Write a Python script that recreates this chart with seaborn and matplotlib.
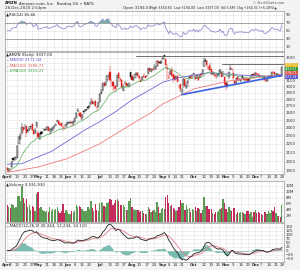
import numpy as np
import pandas as pd
import seaborn as sns
import matplotlib.pyplot as plt

# trading days shown on the chart
holidays = ['2020-04-10', '2020-05-25', '2020-07-03', '2020-09-07', '2020-11-26', '2020-12-25']
dates = pd.bdate_range('2020-04-01', '2020-12-28', freq='C', holidays=holidays)

closes = [1908, 1919, 1907, 1998, 2012, 2043, 2043, 2169, 2283, 2308, 2408, 2375, 2394, 2328, 2363, 2399, 2410, 2376, 2314, 2373, 2474,
          2286, 2316, 2318, 2351, 2368, 2380, 2409, 2357, 2368, 2389, 2410, 2426, 2449, 2498, 2447, 2437, 2422, 2410, 2401, 2442,
          2471, 2472, 2478, 2461, 2483, 2524, 2601, 2647, 2558, 2545, 2573, 2615, 2641, 2654, 2675, 2714, 2764, 2734, 2755, 2693, 2680, 2759,
          2879, 2890, 3057, 3000, 3081, 3183, 3200, 3104, 3084, 3009, 3000, 2962, 3197, 3138, 3100, 2987, 3009, 3055, 3000, 3034, 3052, 3165,
          3112, 3139, 3205, 3225, 3167, 3148, 3081, 3162, 3161, 3148, 3182, 3312, 3260, 3297, 3285, 3307, 3346, 3442, 3400, 3402, 3451,
          3499, 3531, 3368, 3295, 3150, 3269, 3175, 3116, 3103, 3156, 3078, 3009, 2955, 2960, 3129, 3000, 3020, 3095, 3174, 3145, 3149,
          3221, 3125, 3199, 3100, 3196, 3191, 3287, 3443, 3444, 3364, 3339, 3273, 3207, 3217, 3185, 3176, 3204, 3207, 3286, 3163, 3211, 3036,
          3004, 3048, 3241, 3322, 3311, 3144, 3035, 3137, 3110, 3129, 3131, 3136, 3105, 3117, 3099, 3098, 3118, 3185, 3195, 3168,
          3220, 3204, 3187, 3163, 3158, 3177, 3104, 3101, 3116, 3157, 3165, 3241, 3236, 3202, 3206, 3207, 3185, 3173, 3337]
opens = [1933, 1901, 1911, 1937, 2034, 2021, 2044, 2041, 2200, 2255, 2331, 2406, 2390, 2416, 2364, 2375, 2418, 2443, 2373, 2330, 2419,
         2336, 2256, 2340, 2329, 2374, 2372, 2375, 2412, 2367, 2353, 2369, 2412, 2432, 2474, 2494, 2455, 2459, 2404, 2384, 2416,
         2448, 2467, 2468, 2478, 2444, 2478, 2529, 2626, 2603, 2601, 2526, 2620, 2623, 2643, 2680, 2685, 2727, 2780, 2739, 2775, 2690, 2685,
         2758, 2912, 2934, 3058, 3023, 3115, 3192, 3251, 3090, 3080, 2971, 3010, 3000, 3232, 3125, 3099, 2930, 3062, 3055, 3030, 2992, 3244,
         3180, 3100, 3146, 3194, 3224, 3170, 3113, 3109, 3168, 3171, 3174, 3212, 3307, 3252, 3295, 3310, 3294, 3352, 3450, 3423, 3408,
         3489, 3548, 3485, 3319, 3144, 3203, 3286, 3208, 3172, 3137, 3180, 3009, 3032, 2907, 3017, 3120, 2978, 3055, 3149, 3175, 3141,
         3208, 3154, 3145, 3165, 3135, 3203, 3211, 3349, 3468, 3447, 3292, 3363, 3300, 3222, 3213, 3189, 3191, 3198, 3224, 3250, 3201, 3157,
         3061, 3018, 3160, 3272, 3305, 3231, 3095, 3062, 3159, 3122, 3094, 3183, 3134, 3105, 3118, 3117, 3101, 3141, 3211, 3208,
         3188, 3222, 3205, 3199, 3157, 3158, 3167, 3089, 3096, 3144, 3181, 3177, 3251, 3243, 3182, 3203, 3206, 3193, 3194]
highs = [1945, 1928, 1926, 1999, 2035, 2044, 2053, 2180, 2292, 2333, 2461, 2408, 2444, 2428, 2387, 2424, 2420, 2444, 2373, 2391, 2475,
         2362, 2326, 2352, 2357, 2396, 2383, 2419, 2419, 2390, 2392, 2410, 2439, 2454, 2500, 2500, 2469, 2462, 2414, 2436, 2443,
         2477, 2473, 2488, 2491, 2489, 2525, 2618, 2665, 2622, 2611, 2589, 2623, 2655, 2659, 2697, 2716, 2816, 2797, 2756, 2783, 2696, 2763,
         2896, 2955, 3060, 3070, 3084, 3193, 3217, 3344, 3125, 3094, 3032, 3022, 3200, 3240, 3150, 3099, 3032, 3098, 3077, 3039, 3062, 3246,
         3184, 3162, 3214, 3248, 3240, 3172, 3159, 3167, 3218, 3179, 3188, 3321, 3309, 3312, 3315, 3381, 3358, 3451, 3453, 3433, 3468,
         3514, 3552, 3488, 3381, 3250, 3289, 3325, 3211, 3188, 3175, 3188, 3029, 3037, 2962, 3133, 3123, 3070, 3101, 3175, 3188, 3212,
         3221, 3188, 3199, 3202, 3200, 3233, 3289, 3496, 3493, 3464, 3356, 3400, 3330, 3266, 3234, 3198, 3205, 3282, 3292, 3264, 3265, 3168,
         3080, 3074, 3245, 3367, 3323, 3290, 3114, 3140, 3175, 3142, 3143, 3189, 3141, 3125, 3133, 3140, 3134, 3199, 3216, 3229,
         3248, 3228, 3228, 3199, 3181, 3180, 3174, 3143, 3119, 3190, 3181, 3248, 3263, 3250, 3226, 3224, 3210, 3202, 3350]
lows = [1890, 1891, 1890, 1927, 1996, 2008, 2018, 2038, 2200, 2245, 2313, 2338, 2366, 2279, 2334, 2353, 2388, 2363, 2306, 2318, 2397,
        2275, 2248, 2306, 2320, 2355, 2354, 2372, 2356, 2310, 2334, 2359, 2378, 2426, 2469, 2440, 2430, 2415, 2360, 2382, 2399,
        2436, 2446, 2455, 2421, 2438, 2472, 2525, 2617, 2553, 2500, 2505, 2581, 2609, 2630, 2645, 2670, 2715, 2721, 2712, 2688, 2630, 2676,
        2756, 2872, 2934, 2990, 3010, 3074, 3136, 3069, 2990, 2950, 2918, 2923, 2993, 3122, 3065, 2966, 2930, 3016, 2995, 2997, 2986, 3116,
        3105, 3090, 3142, 3192, 3141, 3102, 3074, 3108, 3161, 3135, 3151, 3206, 3259, 3250, 3274, 3257, 3282, 3343, 3340, 3388, 3395,
        3468, 3487, 3303, 3112, 3131, 3189, 3163, 3062, 3092, 3108, 3075, 2972, 2905, 2871, 2976, 2993, 2966, 2999, 3105, 3132, 3135,
        3160, 3106, 3130, 3087, 3133, 3160, 3194, 3339, 3422, 3340, 3281, 3267, 3192, 3192, 3160, 3120, 3141, 3153, 3211, 3162, 3163, 3019,
        2950, 2981, 3125, 3272, 3274, 3100, 3002, 3056, 3087, 3085, 3074, 3135, 3102, 3081, 3098, 3072, 3087, 3134, 3191, 3126,
        3175, 3164, 3180, 3158, 3137, 3123, 3088, 3076, 3073, 3126, 3127, 3171, 3216, 3190, 3164, 3182, 3185, 3164, 3194]
volumes_m = [5.6, 5.1, 4.7, 6.0, 5.5, 4.6, 4.8, 8.5, 8.6, 7.0, 12.0, 7.9, 6.1, 7.5, 4.8, 5.5, 3.9, 5.3, 4.8, 3.7, 9.1,
             9.8, 4.7, 4.8, 4.0, 3.7, 3.2, 3.6, 3.4, 4.8, 3.6, 4.2, 3.9, 4.4, 5.0, 3.5, 2.9, 3.6, 5.8, 3.1, 3.9,
             3.3, 2.5, 2.7, 3.6, 3.3, 3.7, 5.5, 5.1, 5.3, 5.0, 4.2, 3.6, 3.6, 3.5, 5.0, 4.3, 6.8, 4.5, 3.6, 6.0, 4.1, 3.6,
             6.4, 6.6, 6.4, 5.3, 5.1, 6.3, 6.5, 7.7, 7.2, 5.6, 6.1, 7.2, 7.6, 6.8, 5.7, 5.6, 5.6, 4.9, 4.1, 3.9, 6.9, 8.0,
             5.1, 4.2, 3.8, 3.9, 3.9, 3.4, 3.7, 3.5, 3.1, 2.5, 2.7, 5.0, 4.3, 3.3, 3.6, 4.0, 3.3, 6.5, 4.9, 3.1, 4.2,
             4.6, 4.3, 8.2, 8.8, 6.1, 5.4, 5.6, 4.6, 4.2, 3.6, 4.1, 4.8, 7.1, 6.1, 6.2, 4.1, 5.5, 4.4, 4.6, 3.3, 4.4,
             4.1, 5.0, 3.5, 4.6, 4.3, 2.9, 4.0, 8.3, 5.3, 5.3, 4.4, 4.4, 4.2, 2.9, 2.6, 3.2, 3.2, 3.7, 4.2, 4.6, 7.5, 6.4,
             4.3, 3.4, 4.9, 4.0, 3.5, 4.7, 4.6, 2.7, 3.2, 3.0, 3.2, 3.3, 2.9, 2.6, 3.5, 3.6, 2.7, 3.2, 1.8, 3.4,
             4.1, 3.0, 3.2, 2.8, 2.6, 2.2, 3.4, 3.4, 2.6, 3.5, 3.0, 4.0, 3.5, 5.0, 2.9, 2.0, 2.1, 1.5, 5.5]

# moving averages at a few bars (bar index, value)
ma50_idx = [0, 10, 21, 30, 41, 52, 63, 74, 85, 96, 106, 116, 127, 137, 149, 159, 169, 179, 187]
ma50_val = [1970, 1975, 2050, 2110, 2230, 2360, 2480, 2620, 2790, 2930, 3070, 3140, 3190, 3230, 3210, 3190, 3180, 3170, 3171]
ma100_idx = [0, 21, 41, 63, 85, 97, 106, 127, 149, 169, 187]
ma100_val = [1885, 1940, 2030, 2200, 2450, 2590, 2730, 2960, 3080, 3150, 3190]

# RSI smoothing state carried in from March (avg gain, avg loss)
rsi_seed = (31.0, 29.0)

# drawn annotations: (start bar, price)
support_line = ([119, 187], [2871, 3185])
resist_lines = [(88, 3545), (146, 3390)]

# last-value tags on the right price axis
tag_text = ['3337.00', '3219.27', '3196.71', '3171.04']
tag_color = ['#e8b820', '#3a9a3a', '#e05050', '#5a5ad0']

df = pd.DataFrame({'date': dates, 'open': opens, 'high': highs, 'low': lows,
                   'close': closes, 'vol': volumes_m})
df['i'] = np.arange(len(df))
df['ema20'] = df['close'].ewm(span=20, adjust=False).mean()

# Wilder RSI
prev_close = df['close'].shift(1).fillna(df['open'])
delta = df['close'] - prev_close
ag, al = rsi_seed
rsi = []
for d in delta:
    ag = (ag * 13 + max(d, 0)) / 14
    al = (al * 13 + max(-d, 0)) / 14
    rsi.append(100 - 100 / (1 + ag / al))
df['rsi'] = rsi

df['macd'] = df['close'].ewm(span=12, adjust=False).mean() - df['close'].ewm(span=26, adjust=False).mean()
df['signal'] = df['macd'].ewm(span=9, adjust=False).mean()
df['hist'] = df['macd'] - df['signal']
df['down'] = df['close'] < prev_close

sns.set_theme(style='whitegrid')
plt.rcParams['font.family'] = ['DejaVu Sans']
FS = 2.8
GRID = '#e2e2e2'

fig = plt.figure(figsize=(3.0, 2.7), dpi=100, facecolor='#f3f3f3')
W, H = 300, 270
def panel(top, bottom):
    return fig.add_axes([5 / W, 1 - bottom / H, 279 / W, (bottom - top) / H])

ax_rsi = panel(11, 51)
ax_p = panel(52, 174)
ax_v = panel(181, 222)
ax_m = panel(223, 262)

# month / week ticks
ticks = []  # (pos, label, is_month)
prev_month = None
prev_week = None
for i, d in enumerate(df['date']):
    wk = d.isocalendar()[1]
    if d.month != prev_month:
        ticks.append((i, d.strftime('%b') if d.month != 4 else 'April', True))
    elif wk != prev_week and i - ticks[-1][0] >= 4:
        ticks.append((i, str(d.day), False))
    prev_month, prev_week = d.month, wk
# drop a week label sitting right before a month label
ticks = [t for k, t in enumerate(ticks)
         if t[2] or k + 1 >= len(ticks) or ticks[k + 1][0] - t[0] >= 4]
tick_pos = [t[0] for t in ticks]
tick_lab = [t[1] for t in ticks]
month_pos = [t[0] for t in ticks if t[2]]

for ax in (ax_rsi, ax_p, ax_v, ax_m):
    ax.set_facecolor('white')
    ax.set_xlim(-1.5, len(df) + 0.5)
    ax.set_xticks(tick_pos)
    ax.grid(True, color=GRID, lw=0.4)
    ax.yaxis.tick_right()
    ax.tick_params(axis='both', labelsize=FS, length=0, pad=1, colors='#333333')
    for s in ax.spines.values():
        s.set_color('#9a9a9a')
        s.set_linewidth(0.5)

for ax in (ax_rsi, ax_v):
    ax.set_xticklabels([])
for ax in (ax_p, ax_m):
    ax.set_xticklabels(tick_lab)
    ax.tick_params(axis='x', pad=0.6)
    for lab, pos in zip(ax.get_xticklabels(), tick_pos):
        if pos in month_pos:
            lab.set_fontweight('bold')

# RSI panel
sns.lineplot(data=df, x='i', y='rsi', ax=ax_rsi, color='#8e8ed0', lw=0.6)
ax_rsi.fill_between(df['i'], 70, df['rsi'], where=df['rsi'] > 70, color='#6fb3a6', lw=0, interpolate=True)
ax_rsi.fill_between(df['i'], 30, df['rsi'], where=df['rsi'] < 30, color='#e06070', lw=0, interpolate=True)
ax_rsi.axhline(70, color='#888888', lw=0.5)
ax_rsi.axhline(30, color='#888888', lw=0.5)
ax_rsi.set_ylim(0, 100)
ax_rsi.set_yticks([10, 30, 50, 70, 90])
ax_rsi.set_xlabel('')
ax_rsi.set_ylabel('')
ax_rsi.text(0.005, 0.97, '\u25b2RSI(14) 65.66', transform=ax_rsi.transAxes, fontsize=FS, va='top', color='#222222')

# price panel
ax_p.set_yscale('log')
ax_p.set_ylim(1868, 3615)
pticks = list(range(1900, 3600, 100))
ax_p.set_yticks(pticks)
# labels under the value tags are hidden, as on the chart
ax_p.set_yticklabels(['' if 3150 < t < 3450 else str(t) for t in pticks])
ax_p.yaxis.set_minor_locator(plt.NullLocator())
ax_p.yaxis.set_minor_formatter(plt.NullFormatter())

edge = np.where(df['down'], '#e0231f', '#111111')
face = np.where(df['close'] < df['open'], edge, 'white')
ax_p.vlines(df['i'], df['low'], df['high'], colors=edge, lw=0.35)
ax_p.bar(df['i'], (df['close'] - df['open']).abs().clip(lower=2), bottom=df[['open', 'close']].min(axis=1),
         width=0.8, color=face, edgecolor=edge, lw=0.25)

sns.lineplot(x=ma100_idx, y=ma100_val, ax=ax_p, color='#f07a7a', lw=0.6)
sns.lineplot(x=ma50_idx, y=ma50_val, ax=ax_p, color='#6a6ad6', lw=0.6)
sns.lineplot(data=df, x='i', y='ema20', ax=ax_p, color='#5aaa5a', lw=0.5)
ax_p.plot(support_line[0], support_line[1], color='#3a62e0', lw=1.2)
for start, level in resist_lines:
    ax_p.plot([start, len(df) + 0.5], [level, level], color='#555555', lw=0.6)
ax_p.set_xlabel('')
ax_p.set_ylabel('')

legend = [('\u25b2AMZN (Daily) 3337.00', '#222222'), ('\u2014MA(50) 3171.04', '#5a5ad0'),
          ('\u2014MA(100) 3196.71', '#e05050'), ('\u2014EMA(20) 3219.27', '#3a9a3a')]
for k, (t, c) in enumerate(legend):
    ax_p.text(0.005, 0.995 - k * 0.045, t, transform=ax_p.transAxes, fontsize=FS, va='top', color=c)

# stacked value tags (pixel rows 65..77 of the figure)
for k, (t, c) in enumerate(zip(tag_text, tag_color)):
    ypx = 65 + k * 4
    fig.text(285 / W, 1 - ypx / H, t, fontsize=FS - 0.6, va='center', ha='left', color='white',
             bbox=dict(boxstyle='square,pad=0.08', fc=c, ec='none'))

# volume panel
vcol = np.where(df['down'], '#c42a5c', '#5c9c56')
ax_v.bar(df['i'], df['vol'], width=0.85, color=vcol, lw=0)
ax_v.set_ylim(0, 13.5)
ax_v.set_yticks([2, 4, 6, 8, 10, 12])
ax_v.set_yticklabels(['2M', '4M', '6M', '8M', '10M', '12M'])
ax_v.set_xlabel('')
ax_v.set_ylabel('')
ax_v.text(0.005, 0.97, '\u25b2Volume 3,591,930', transform=ax_v.transAxes, fontsize=FS, va='top', color='#222222')

# MACD panel
ax_m.fill_between(df['i'], 0, df['hist'], color='#7cbcb0', lw=0)
sns.lineplot(data=df, x='i', y='signal', ax=ax_m, color='#e8808a', lw=0.6)
sns.lineplot(data=df, x='i', y='macd', ax=ax_m, color='#222222', lw=0.6)
ax_m.set_ylim(-70, 172)
ax_m.set_yticks([-50, -25, 0, 25, 50, 75, 100, 125, 150])
ax_m.set_xlabel('')
ax_m.set_ylabel('')
ax_m.text(0.005, 0.97, '\u2014MACD(12,26,9) 26.344, 12.234, 14.110', transform=ax_m.transAxes,
          fontsize=FS, va='top', color='#222222')

# header
fig.text(5 / W, 1 - 1.5 / H, 'AMZN', fontsize=FS, fontweight='bold', va='top')
fig.text(19 / W, 1 - 1.5 / H, 'Amazon.com, Inc.  Nasdaq GS + BATS', fontsize=FS, va='top')
fig.text(5 / W, 1 - 6 / H, '28-Dec-2020 2:54pm', fontsize=FS, va='top', color='#333333')
fig.text(123 / W, 1 - 6 / H, 'Open 3194.00', fontsize=FS, va='top')
fig.text(150 / W, 1 - 6 / H, 'High 3350.65  Low 3194.00  Last 3337.00  Vol 3.6M  Chg +164.31 (+5.18%)\u25b2',
         fontsize=FS - 0.5, va='top')
fig.text(284 / W, 1 - 1.5 / H, '\u00a9 StockCharts.com', fontsize=FS - 0.5, va='top', ha='right', color='#555555')

fig.savefig('out.png', dpi=100, facecolor=fig.get_facecolor())
